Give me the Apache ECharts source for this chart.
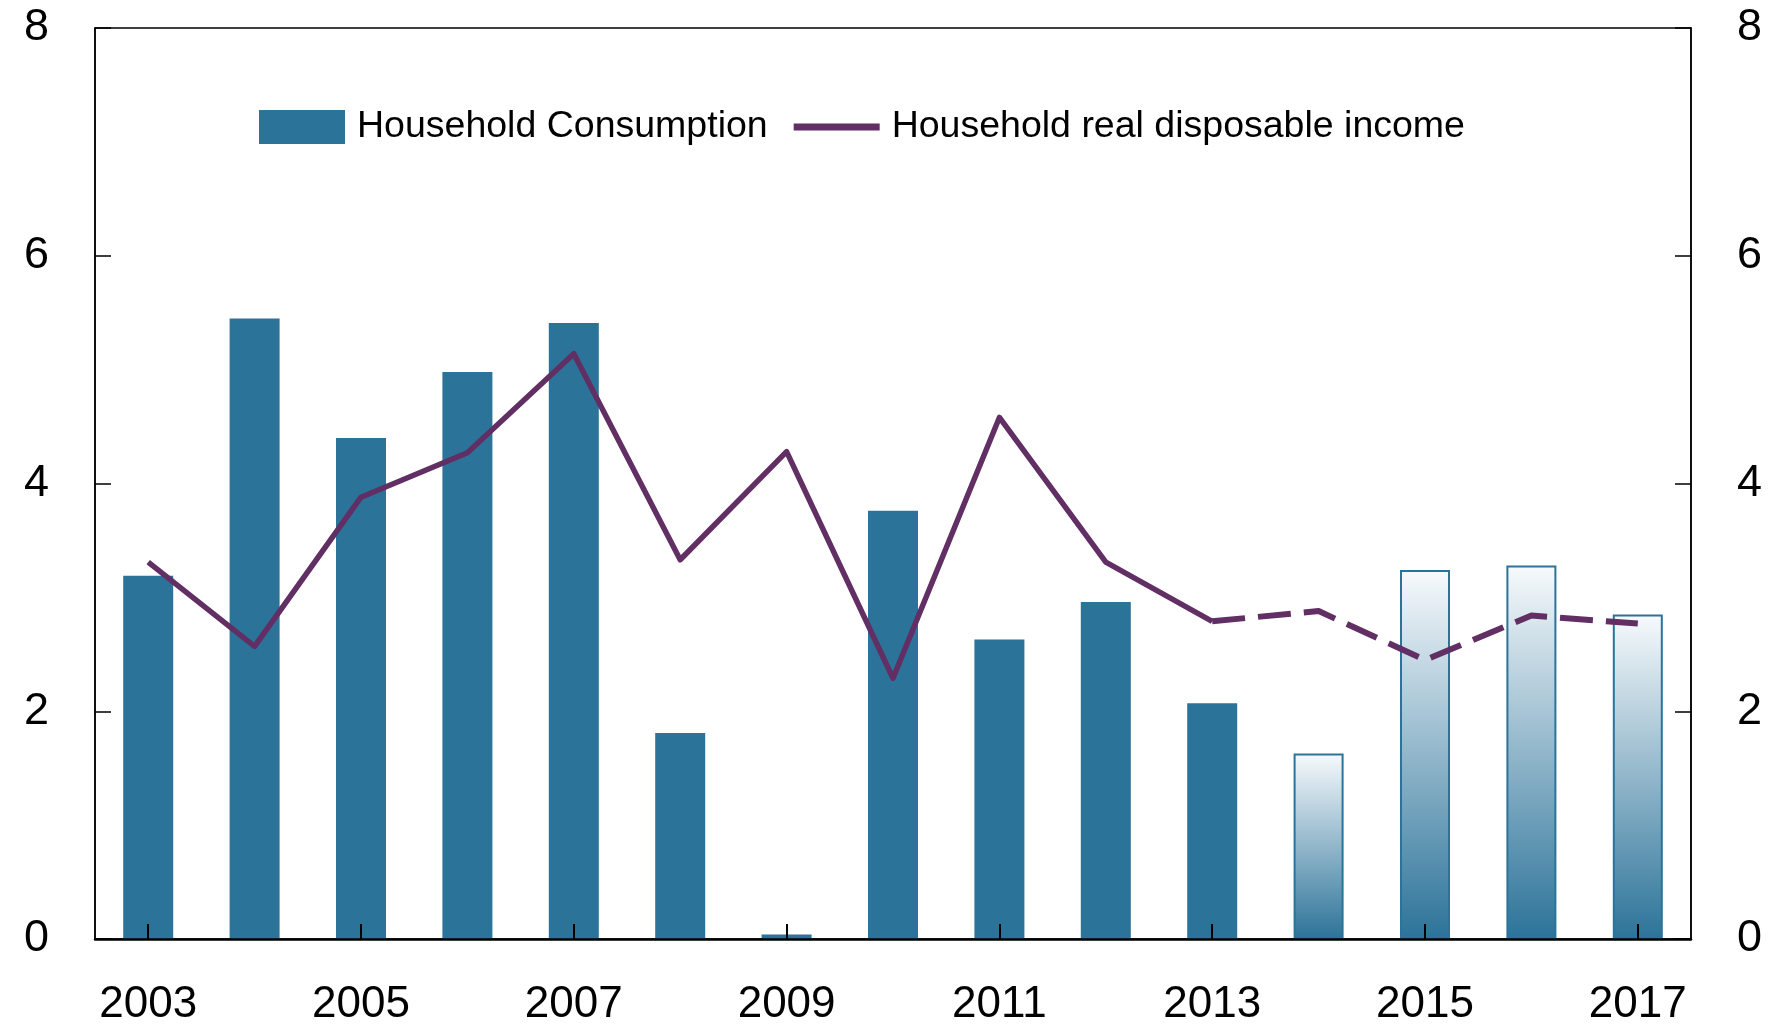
<!DOCTYPE html>
<html>
<head>
<meta charset="utf-8">
<script src="https://cdn.jsdelivr.net/npm/echarts@6/dist/echarts.min.js"></script>
<style>
  html, body { margin: 0; padding: 0; background: #fff; }
  #chart { width: 1775px; height: 1027px; }
</style>
</head>
<body>
<div id="chart"></div>
<script>
// data
const years = ['2003', '2004', '2005', '2006', '2007', '2008', '2009', '2010',
  '2011', '2012', '2013', '2014', '2015', '2016', '2017'];
const consumption = [3.19, 5.45, 4.40, 4.98, 5.41, 1.81, 0.04, 3.76,
  2.63, 2.96, 2.07, 1.63, 3.24, 3.28, 2.85];
const income = [3.31, 2.57, 3.88, 4.27, 5.14, 3.33, 4.28, 2.29,
  4.58, 3.31, 2.79, 2.88, 2.45, 2.84, 2.77];
const firstForecast = 11; // 2014 onwards are projections
const yTicks = [0, 2, 4, 6, 8];

const blue = '#2c7399';
const purple = '#612f63';
const font = '"Liberation Sans", Arial, Helvetica, sans-serif';

const chart = echarts.init(document.getElementById('chart'));

// projected bars get a white->blue fade and an outline
const barData = consumption.map((v, i) => {
  if (i < firstForecast) return v;
  return {
    value: v,
    itemStyle: {
      color: new echarts.graphic.LinearGradient(0, 0, 0, 1, [
        { offset: 0, color: '#f7fafc' },
        { offset: 1, color: blue }
      ]),
      borderColor: blue,
      borderWidth: 2
    }
  };
});
// solid part of the line up to 2013, dashed after
const solidLine = income.map((v, i) => (i <= firstForecast - 1 ? v : '-'));
const dashedLine = income.map((v, i) => (i >= firstForecast - 1 ? v : '-'));

const yAxisBase = {
  type: 'value',
  min: yTicks[0],
  max: yTicks[yTicks.length - 1],
  interval: 2,
  z: 10,
  splitLine: { show: false },
  axisLine: { show: true, lineStyle: { color: '#000', width: 1.5 } },
  axisTick: { show: true, inside: true, length: 16, lineStyle: { color: '#000', width: 1.5 } },
  axisLabel: { color: '#000', fontSize: 45, fontFamily: font, margin: 46 }
};

chart.setOption({
  animation: false,
  textStyle: { fontFamily: font },
  grid: {
    left: 95, right: 84, top: 28, bottom: 87,
    show: true, borderColor: '#000', borderWidth: 1.5
  },
  legend: {
    left: 254,
    top: 103,
    itemWidth: 86,
    itemHeight: 34,
    itemGap: 26,
    data: [
      { name: 'Household Consumption', icon: 'rect' },
      // flat bar as the line key: the stray moveTo points fix its box to 86x34
      { name: 'Household real disposable income', icon: 'path://M0,0M86,34M0,13.5L86,13.5L86,20.5L0,20.5Z' }
    ],
    textStyle: { fontSize: 37.5, color: '#000', fontFamily: font, padding: [0, 0, 0, 7] }
  },
  xAxis: {
    type: 'category',
    data: years,
    boundaryGap: true,
    z: 10,
    axisLine: { lineStyle: { color: '#000', width: 2.5 } },
    axisTick: { show: true, inside: true, alignWithLabel: true, interval: 1, length: 15, lineStyle: { color: '#000', width: 2 } },
    axisLabel: { interval: 1, color: '#000', fontSize: 44, fontFamily: font, margin: 44 }
  },
  yAxis: [
    Object.assign({}, yAxisBase, { position: 'left' }),
    Object.assign({}, yAxisBase, { position: 'right' })
  ],
  series: [
    {
      name: 'Household Consumption',
      type: 'bar',
      data: barData,
      barWidth: 50,
      itemStyle: { color: blue },
      z: 1
    },
    {
      name: 'Household real disposable income',
      type: 'line',
      data: solidLine,
      showSymbol: false,
      symbol: 'none',
      lineStyle: { color: purple, width: 5.5, join: 'round' },
      itemStyle: { color: purple },
      z: 3
    },
    {
      name: 'Household real disposable income',
      type: 'line',
      data: dashedLine,
      showSymbol: false,
      symbol: 'none',
      lineStyle: { color: purple, width: 6, type: [33, 13], join: 'round' },
      itemStyle: { color: purple },
      z: 3
    }
  ]
});
</script>
</body>
</html>
